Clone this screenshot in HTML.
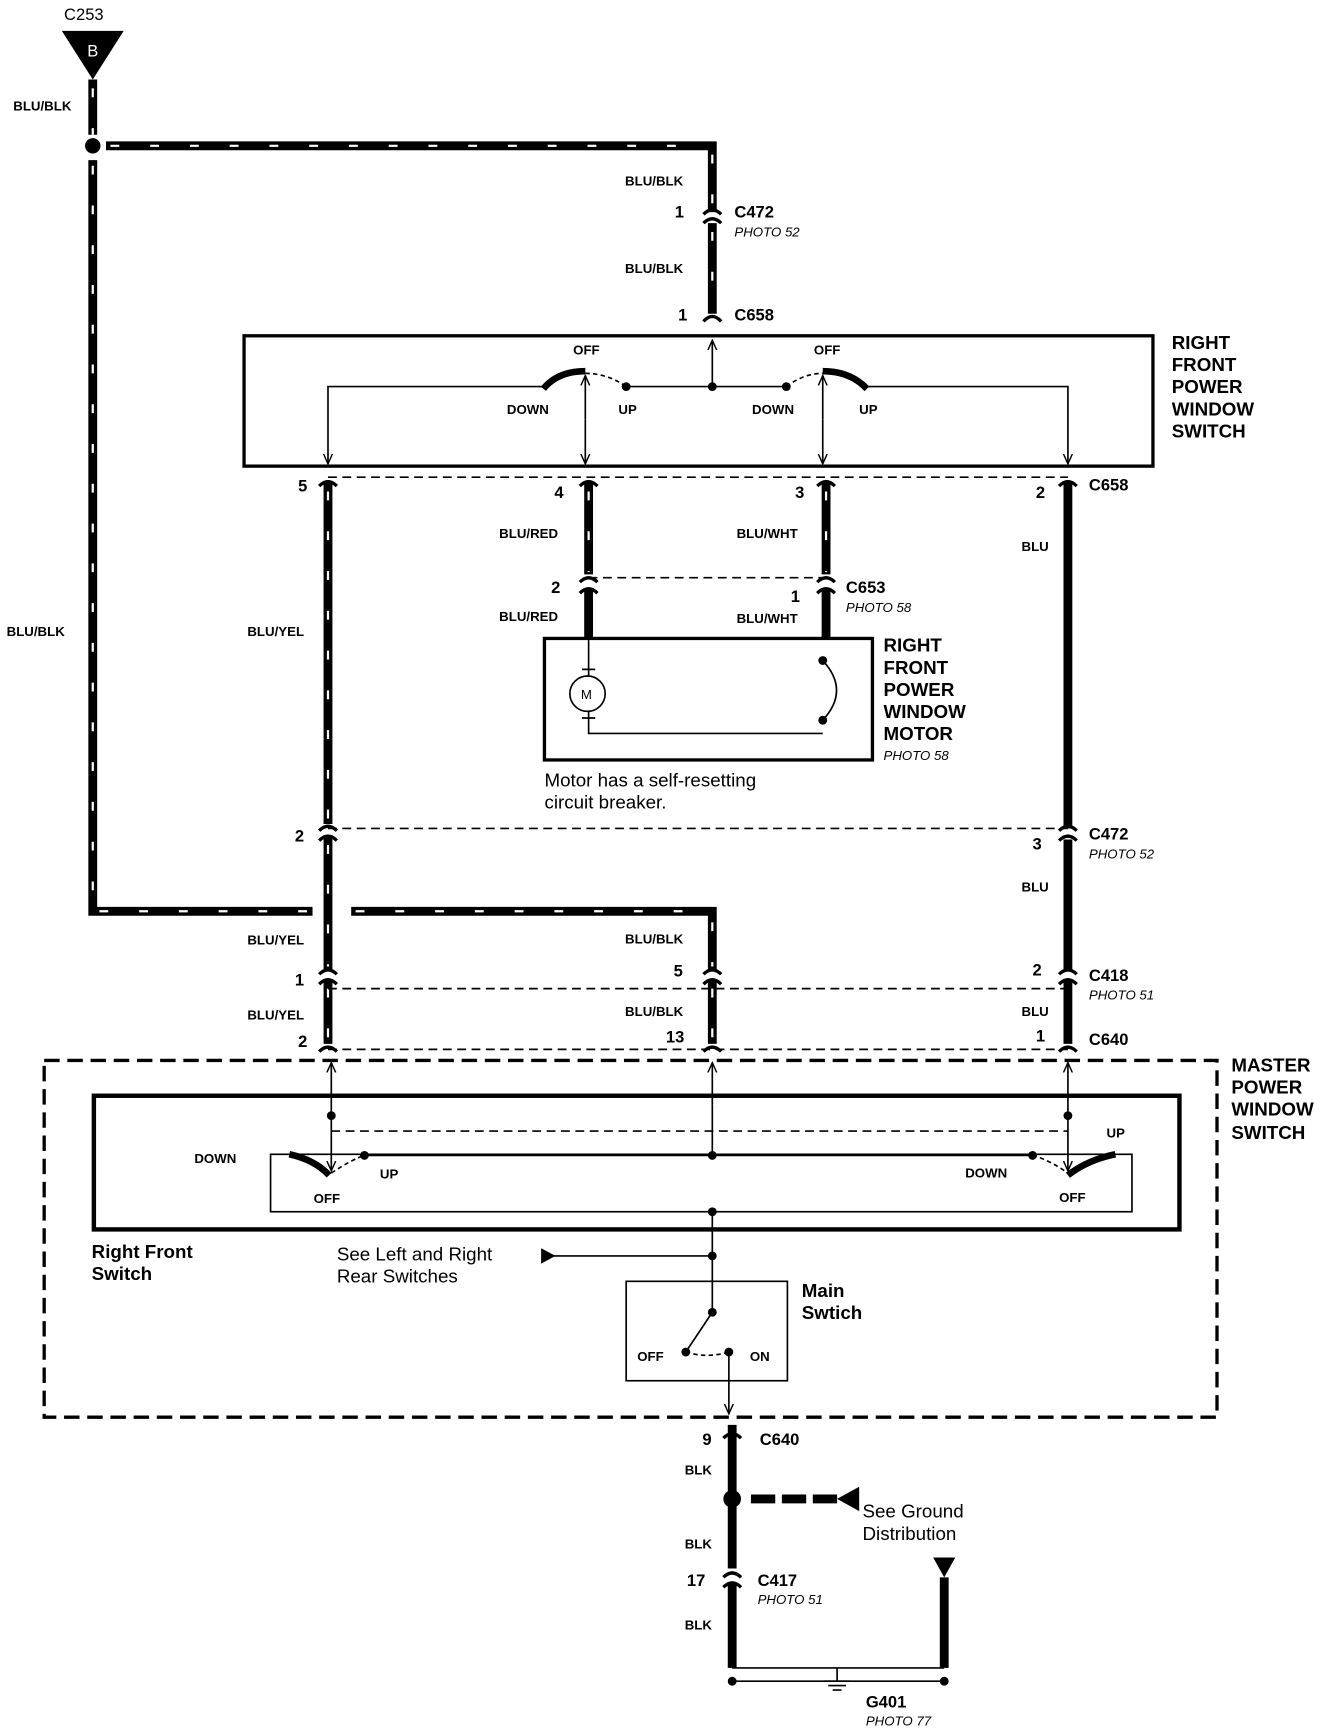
<!DOCTYPE html>
<html><head><meta charset="utf-8"><style>
html,body{margin:0;padding:0;background:#fff;}
svg{display:block}
text{font-family:"Liberation Sans",Arial,sans-serif;fill:#000}
.b{font-weight:bold;font-size:15px}
.s{font-weight:bold;font-size:12px}
.i{font-style:italic;font-size:12px}
.n{font-size:15px}
.L{font-weight:bold;font-size:17px}
</style></head><body>
<svg width="1344" height="1732" viewBox="0 0 1217 1568" preserveAspectRatio="none" xmlns="http://www.w3.org/2000/svg">
<defs>
<marker id="a" markerWidth="10" markerHeight="10" refX="9" refY="5" orient="auto" markerUnits="userSpaceOnUse"><path d="M0,1 L9,5 L0,9" fill="none" stroke="#000" stroke-width="1.3"/></marker>
</defs>
<g fill="none" stroke="#000">
<g stroke-width="8">
<path d="M84 72 V122 M84 145 V825 H283 M96 132 H645 V192 M645 202 V284 M318 825 H645 V878 M645 888 V945 M297 436 V746 M297 756 V878 M297 888 V945 M533 436 V520 M748 436 V520 M967 436 V750 M967 760 V878 M967 888 V945 M533 533 V578 M748 533 V578"/>
<path d="M663 1290 V1420 M663 1434 V1510 M855 1428 V1510"/>
</g>
<g stroke="#fff" stroke-width="2" stroke-dasharray="8 28">
<path d="M84 80 V122 M84 150 V820 M90 825 H283 M100 132 H640 M645 140 V190 M645 210 V280 M322 825 H640 M645 835 V875 M645 895 V940 M297 445 V745 M297 765 V875 M297 895 V940 M533 445 V518 M748 445 V518"/>
</g>
<g stroke-width="3">
<path d="M637 194 Q645 186 653 194 M637 202 Q645 194 653 202 M637 291 Q645 282 653 291 M289 440 Q297 432 305 440 M525 440 Q533 432 541 440 M740 440 Q748 432 756 440 M959 440 Q967 432 975 440 M525 527 Q533 519 541 527 M740 527 Q748 519 756 527 M525 537 Q533 529 541 537 M740 537 Q748 529 756 537 M289 752 Q297 744 305 752 M289 761 Q297 753 305 761 M959 752 Q967 744 975 752 M959 761 Q967 753 975 761 M289 882 Q297 874 305 882 M289 891 Q297 883 305 891 M637 882 Q645 874 653 882 M637 891 Q645 883 653 891 M959 882 Q967 874 975 882 M959 891 Q967 883 975 891 M289 952 Q297 944 305 952 M637 952 Q645 944 653 952 M959 952 Q967 944 975 952 M655 1302 Q663 1294 671 1302 M655 1428 Q663 1420 671 1428 M655 1437 Q663 1429 671 1437"/>
</g>
<g stroke-width="1.5" stroke-dasharray="8 5">
<path d="M297 432 H967 M533 523 H748 M297 750 H967 M297 895 H967 M297 950 H967 M300 1024 H967"/>
</g>
<rect x="221" y="304" width="823" height="118" stroke-width="3"/>
<g stroke-width="1.5">
<path d="M645 350 V308" marker-end="url(#a)"/>
<path d="M567 350 H712"/>
<path d="M492 350 H297 V420" marker-end="url(#a)"/>
<path d="M785 350 H967 V420" marker-end="url(#a)"/>
<path d="M530 380 V340" marker-end="url(#a)"/><path d="M530 380 V420" marker-end="url(#a)"/>
<path d="M745 380 V340" marker-end="url(#a)"/><path d="M745 380 V420" marker-end="url(#a)"/>
<path d="M530 338 Q550 338 567 350 M712 350 Q728 338 745 338" stroke-dasharray="4 3"/>
</g>
<path d="M492 352 Q505 336 530 336 M745 336 Q770 336 785 352" stroke-width="6"/>
<rect x="493" y="578" width="297" height="110" stroke-width="3"/>
<g stroke-width="1.5">
<circle cx="532" cy="628" r="16"/>
<path d="M533 578 V612 M533 644 V664 H745 M745 598 Q770 625 745 652"/>
<path d="M527 606 H539 M527 650 H539"/>
</g>
<rect x="40" y="960" width="1062" height="323" stroke-width="3" stroke-dasharray="14 7"/>
<rect x="85" y="992" width="983" height="121" stroke-width="4"/>
<rect x="245" y="1045" width="780" height="52" stroke-width="1.5"/>
<g stroke-width="1.5">
<path d="M300 1010 V962" marker-end="url(#a)"/><path d="M300 1010 V1060" marker-end="url(#a)"/>
<path d="M645 1000 V962" marker-end="url(#a)"/><path d="M645 1000 V1046"/>
<path d="M967 1010 V962" marker-end="url(#a)"/><path d="M967 1010 V1060" marker-end="url(#a)"/>
<path d="M330 1046 H935"/>
<path d="M300 1062 Q318 1050 330 1046 M935 1046 Q950 1050 967 1062" stroke-dasharray="4 3"/>
<path d="M645 1097 V1188 M495 1137 H645"/>
<rect x="567" y="1160" width="146" height="90"/>
<path d="M645 1188 L621 1224"/>
<path d="M621 1224 Q640 1230 660 1224" stroke-dasharray="4 3"/>
<path d="M660 1224 V1280" marker-end="url(#a)"/>
<path d="M663 1522 H855 M663 1510 H855" />
<path d="M758 1510 V1522 M746 1522 H770 M750 1526 H766 M754 1530 H762"/>
</g>
<path d="M262 1045 Q285 1050 298 1064 M967 1064 Q985 1050 1010 1045" stroke-width="6"/>
<path d="M680 1357 H760" stroke-width="8" stroke-dasharray="22 6"/>
</g>
<g fill="#000">
<path d="M56 28 H112 L84 72 Z"/>
<circle cx="84" cy="132" r="7"/>
<circle cx="567" cy="350" r="4"/><circle cx="645" cy="350" r="4"/><circle cx="712" cy="350" r="4"/>
<circle cx="745" cy="598" r="4"/><circle cx="745" cy="652" r="4"/>
<circle cx="300" cy="1010" r="4"/><circle cx="967" cy="1010" r="4"/><circle cx="645" cy="1046" r="4"/>
<circle cx="330" cy="1046" r="4"/><circle cx="935" cy="1046" r="4"/>
<circle cx="645" cy="1097" r="4"/><circle cx="645" cy="1137" r="4"/><circle cx="645" cy="1188" r="4"/>
<circle cx="621" cy="1224" r="4"/><circle cx="660" cy="1224" r="4"/>
<circle cx="663" cy="1357" r="8"/>
<circle cx="663" cy="1522" r="4"/><circle cx="855" cy="1522" r="4"/>
<path d="M490 1130 L503 1137 L490 1144 Z"/>
<path d="M778 1346 L758 1357 L778 1368 Z"/>
<path d="M845 1410 H865 L855 1428 Z"/>
</g>
<text x="58" y="18" class="n">C253</text>
<text x="84" y="51" class="n" text-anchor="middle" style="fill:#fff">B</text>
<g class="s">
<text x="12" y="100">BLU/BLK</text><text x="6" y="576">BLU/BLK</text>
<text x="566" y="168">BLU/BLK</text><text x="566" y="247">BLU/BLK</text>
<text x="519" y="321">OFF</text><text x="459" y="375">DOWN</text><text x="560" y="375">UP</text>
<text x="737" y="321">OFF</text><text x="681" y="375">DOWN</text><text x="778" y="375">UP</text>
<text x="452" y="487">BLU/RED</text><text x="667" y="487">BLU/WHT</text><text x="925" y="499">BLU</text>
<text x="452" y="562">BLU/RED</text><text x="667" y="564">BLU/WHT</text>
<text x="224" y="576">BLU/YEL</text><text x="925" y="807">BLU</text>
<text x="224" y="855">BLU/YEL</text><text x="566" y="854">BLU/BLK</text>
<text x="224" y="923">BLU/YEL</text><text x="566" y="920">BLU/BLK</text><text x="925" y="920">BLU</text>
<text x="176" y="1053">DOWN</text><text x="344" y="1067">UP</text><text x="284" y="1089">OFF</text>
<text x="1002" y="1030">UP</text><text x="874" y="1066">DOWN</text><text x="959" y="1088">OFF</text>
<text x="577" y="1232">OFF</text><text x="679" y="1232">ON</text>
<text x="620" y="1335">BLK</text><text x="620" y="1402">BLK</text><text x="620" y="1475">BLK</text>
<text x="526" y="633" style="font-weight:normal">M</text>
</g>
<g class="b">
<text x="611" y="197">1</text><text x="665" y="197">C472</text>
<text x="614" y="290">1</text><text x="665" y="290">C658</text>
<text x="270" y="445">5</text><text x="502" y="451">4</text><text x="720" y="451">3</text><text x="938" y="451">2</text><text x="986" y="444">C658</text>
<text x="499" y="537">2</text><text x="716" y="545">1</text><text x="766" y="537">C653</text>
<text x="267" y="762">2</text><text x="986" y="760">C472</text><text x="935" y="769">3</text>
<text x="267" y="892">1</text><text x="610" y="884">5</text><text x="935" y="883">2</text><text x="986" y="888">C418</text>
<text x="270" y="948">2</text><text x="603" y="944">13</text><text x="938" y="943">1</text><text x="986" y="946">C640</text>
<text x="636" y="1308">9</text><text x="688" y="1308">C640</text>
<text x="622" y="1436">17</text><text x="686" y="1436">C417</text>
<text x="784" y="1546">G401</text>
</g>
<g class="i">
<text x="665" y="214">PHOTO 52</text><text x="766" y="554">PHOTO 58</text><text x="800" y="688">PHOTO 58</text>
<text x="986" y="777">PHOTO 52</text><text x="986" y="905">PHOTO 51</text><text x="686" y="1452">PHOTO 51</text><text x="784" y="1562">PHOTO 77</text>
</g>
<g class="L">
<text x="1061" y="316">RIGHT</text><text x="1061" y="336">FRONT</text><text x="1061" y="356">POWER</text><text x="1061" y="376">WINDOW</text><text x="1061" y="396">SWITCH</text>
<text x="800" y="590">RIGHT</text><text x="800" y="610">FRONT</text><text x="800" y="630">POWER</text><text x="800" y="650">WINDOW</text><text x="800" y="670">MOTOR</text>
<text x="1115" y="970">MASTER</text><text x="1115" y="990">POWER</text><text x="1115" y="1010">WINDOW</text><text x="1115" y="1031">SWITCH</text>
<text x="83" y="1139">Right Front</text><text x="83" y="1159">Switch</text>
<text x="726" y="1174">Main</text><text x="726" y="1194">Swtich</text>
</g>
<g style="font-size:17px">
<text x="493" y="712">Motor has a self-resetting</text><text x="493" y="732">circuit breaker.</text>
<text x="305" y="1141">See Left and Right</text><text x="305" y="1161">Rear Switches</text>
<text x="781" y="1374">See Ground</text><text x="781" y="1394">Distribution</text>
</g>
</svg>
</body></html>
